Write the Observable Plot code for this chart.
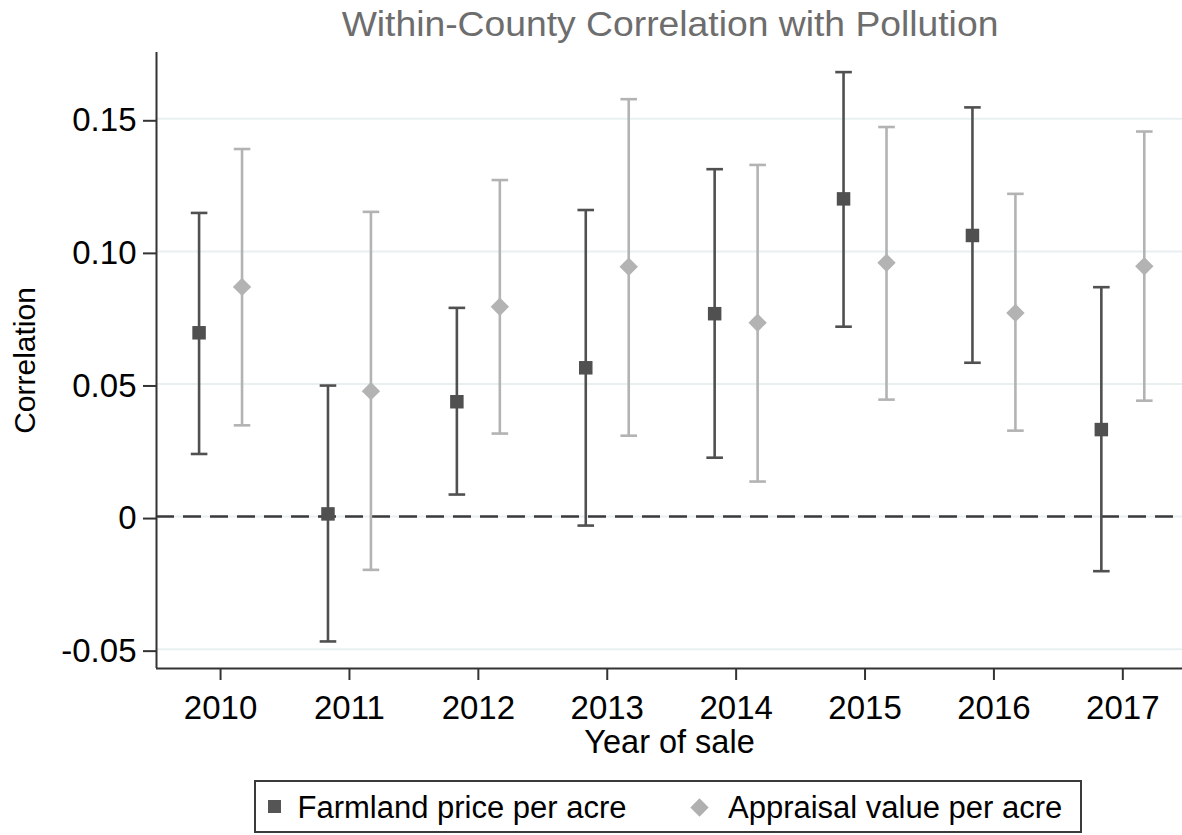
<!DOCTYPE html>
<html>
<head>
<meta charset="utf-8">
<script src="https://cdn.jsdelivr.net/npm/d3@7"></script>
<script src="https://cdn.jsdelivr.net/npm/@observablehq/plot@0.6"></script>
<style>
  body { margin: 0; background: #fff; }
  #wrap { position: relative; width: 1182px; height: 835px; overflow: hidden; font-family: "Liberation Sans", Arial, sans-serif; background: #fff; }
  #title { position: absolute; left: 670px; top: 6px; white-space: nowrap; font-size: 35px; line-height: 35px; color: #6d6d6d; transform: translateX(-50%) scaleX(1.065); }
  #chart { position: absolute; left: 0; top: 50px; }
  #legend { position: absolute; left: 254px; top: 780px; width: 828px; height: 53px; box-sizing: border-box; border: 2px solid #3a3a3a; }
  .lg-text { position: absolute; top: 9.8px; font-size: 31px; line-height: 31px; color: #000; white-space: nowrap; }
  .sw-square { position: absolute; left: 11.5px; top: 18px; width: 13px; height: 13px; background: #555; }
  .sw-diamond { position: absolute; left: 437px; top: 18.5px; width: 13px; height: 13px; background: #b0b0b0; transform: rotate(45deg); }
</style>
</head>
<body>
<div id="wrap">
  <div id="title">Within-County Correlation with Pollution</div>
  <div id="chart"></div>
  <div id="legend">
    <div class="sw-square"></div>
    <div class="lg-text" id="lg1" style="left:41.5px"></div>
    <div class="sw-diamond"></div>
    <div class="lg-text" id="lg2" style="left:472px"></div>
  </div>
</div>
<script>
// ---- data ----
const years = [2010, 2011, 2012, 2013, 2014, 2015, 2016, 2017];
const seriesNames = ["Farmland price per acre", "Appraisal value per acre"];
const farmPoint = [0.0693, 0.0010, 0.0433, 0.0561, 0.0765, 0.1198, 0.1060, 0.0328];
const farmLo    = [0.0236, -0.0471, 0.0083, -0.0034, 0.0222, 0.0716, 0.0580, -0.0206];
const farmHi    = [0.1145, 0.0494, 0.0787, 0.1156, 0.1310, 0.1676, 0.1543, 0.0865];
const apprPoint = [0.0866, 0.0473, 0.0791, 0.0942, 0.0731, 0.0957, 0.0768, 0.0944];
const apprLo    = [0.0344, -0.0201, 0.0313, 0.0305, 0.0132, 0.0441, 0.0324, 0.0437];
const apprHi    = [0.1386, 0.1149, 0.1269, 0.1574, 0.1326, 0.1469, 0.1217, 0.1452];
const yTicks = [-0.05, 0, 0.05, 0.10, 0.15];
const yTickLabels = ["-0.05", "0", "0.05", "0.10", "0.15"];

document.getElementById("lg1").textContent = seriesNames[0];
document.getElementById("lg2").textContent = seriesNames[1];

const dodge = 1 / 6;
const farm = years.map((y, i) => ({x: y - dodge, v: farmPoint[i], lo: farmLo[i], hi: farmHi[i]}));
const appr = years.map((y, i) => ({x: y + dodge, v: apprPoint[i], lo: apprLo[i], hi: apprHi[i]}));

const darkC = "#505050", lightC = "#b3b3b3";
const xDomain = [2009.503, 2017.463];
const yDomain = [-0.0573, 0.175];

const capSym = { draw(ctx, size) { const r = Math.sqrt(size / Math.PI); ctx.moveTo(-r, 0); ctx.lineTo(r, 0); } };
const squareSym = { draw(ctx, size) { const r = Math.sqrt(size / Math.PI); ctx.rect(-r, -r, 2 * r, 2 * r); } };
const diamondSym = { draw(ctx, size) { const r = Math.sqrt(size / Math.PI); ctx.moveTo(0, -r); ctx.lineTo(r, 0); ctx.lineTo(0, r); ctx.lineTo(-r, 0); ctx.closePath(); } };

const chart = Plot.plot({
  width: 1182,
  height: 730,
  marginTop: 2,
  marginBottom: 112,
  marginLeft: 156,
  marginRight: 0,
  style: { fontFamily: "'Liberation Sans', Arial, sans-serif", color: "#000", background: "transparent" },
  x: { domain: xDomain },
  y: { domain: yDomain },
  marks: [
    Plot.ruleY(yTicks, { stroke: "#e8f0f1", strokeWidth: 2 }),
    Plot.ruleY([0], { stroke: "#3a3a3a", strokeWidth: 2.6, strokeDasharray: "18,9" }),
    Plot.ruleX([xDomain[0]], { stroke: "#333", strokeWidth: 2 }),
    Plot.ruleY([yDomain[0]], { stroke: "#333", strokeWidth: 2 }),
    Plot.axisX({ ticks: years, tickFormat: d => String(d), tickSize: 12, tickPadding: 15, fontSize: 33, stroke: "#333", strokeWidth: 2, fill: "#000", label: null }),
    Plot.axisY({ ticks: yTicks, tickFormat: d => yTickLabels[yTicks.indexOf(d)], tickSize: 13, tickPadding: 7, fontSize: 33, dy: 2, stroke: "#333", strokeWidth: 2, fill: "#000", label: null }),
    Plot.text(["Year of sale"], { frameAnchor: "bottom", lineAnchor: "top", dy: 61, fontSize: 32.5, fill: "#000" }),
    Plot.text(["Correlation"], { frameAnchor: "left", textAnchor: "middle", lineAnchor: "top", rotate: -90, dx: -143, fontSize: 30, fill: "#000" }),
    // appraisal
    Plot.ruleX(appr, { x: "x", y1: "lo", y2: "hi", stroke: lightC, strokeWidth: 2.6 }),
    Plot.dot(appr, { x: "x", y: "lo", symbol: capSym, r: 8.3, stroke: lightC, strokeWidth: 2.6, fill: "none" }),
    Plot.dot(appr, { x: "x", y: "hi", symbol: capSym, r: 8.3, stroke: lightC, strokeWidth: 2.6, fill: "none" }),
    Plot.dot(appr, { x: "x", y: "v", symbol: diamondSym, r: 9.2, fill: lightC, stroke: "none" }),
    // farmland
    Plot.ruleX(farm, { x: "x", y1: "lo", y2: "hi", stroke: darkC, strokeWidth: 2.6 }),
    Plot.dot(farm, { x: "x", y: "lo", symbol: capSym, r: 8.3, stroke: darkC, strokeWidth: 2.6, fill: "none" }),
    Plot.dot(farm, { x: "x", y: "hi", symbol: capSym, r: 8.3, stroke: darkC, strokeWidth: 2.6, fill: "none" }),
    Plot.dot(farm, { x: "x", y: "v", symbol: squareSym, r: 6.75, fill: darkC, stroke: "none" })
  ]
});
document.getElementById("chart").appendChild(chart);
</script>
</body>
</html>
